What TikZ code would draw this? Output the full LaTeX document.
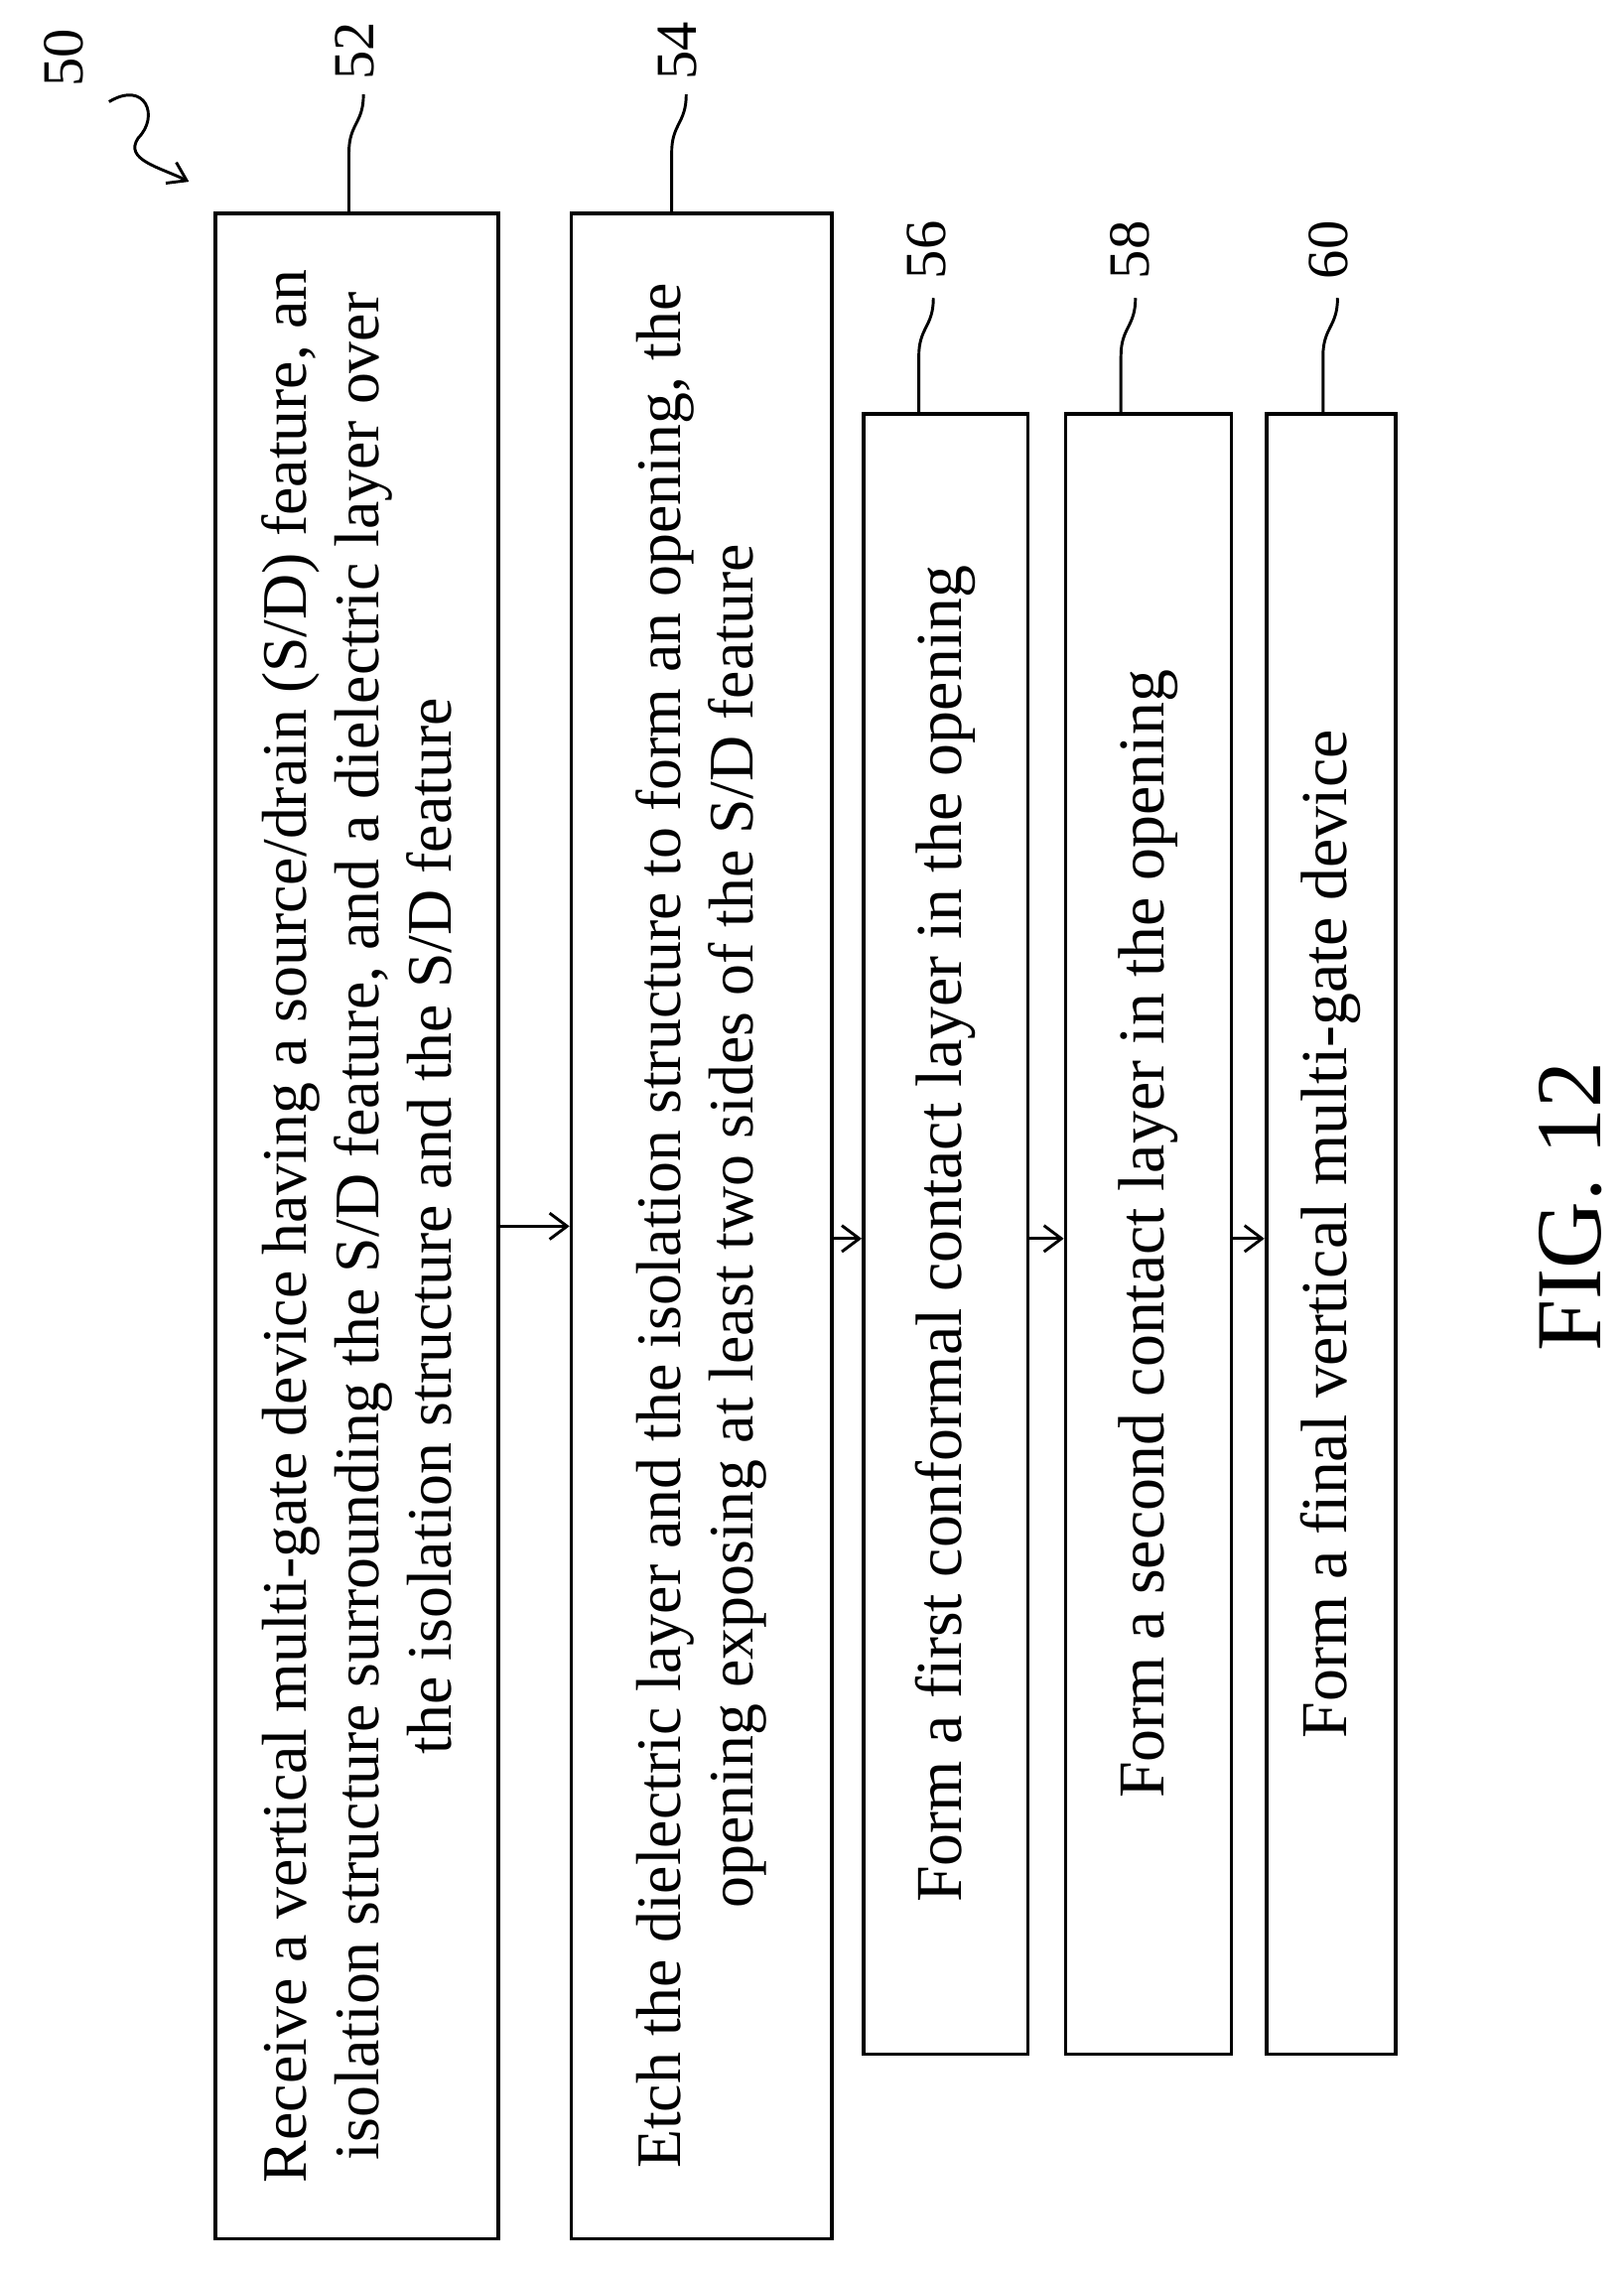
\documentclass[tikz,border=0pt]{standalone}
\usepackage{fontspec}
\setmainfont{Liberation Serif}
\usetikzlibrary{arrows.meta}
\begin{document}
\begin{tikzpicture}[x=0.5pt,y=-0.5pt,
  stepbox/.style={draw,line width=1.3pt,rotate=90,align=center,inner sep=0pt,
    font=\fontsize{22.5}{25}\selectfont},
  lbl/.style={rotate=90,font=\fontsize{20}{22}\selectfont},
  lead/.style={line width=1pt},
  flow/.style={line width=1pt,-{Straight Barb[length=6pt,width=9pt]}}]
\useasboundingbox (0,0) rectangle (1117,1567);
\node[stepbox,minimum width=696.5pt,minimum height=97.5pt,font=\fontsize{21.8}{25}\selectfont] (b52) at (245.5,843.5)
 {Receive a vertical multi-gate device having a source/drain (S/D) feature, an\\ isolation structure surrounding the S/D feature, and a dielectric layer over\\ the isolation structure and the S/D feature};
\node[stepbox,minimum width=696.5pt,minimum height=89.5pt,font=\fontsize{21.8}{25}\selectfont] (b54) at (482.5,843.5)
 {Etch the dielectric layer and the isolation structure to form an opening, the\\ opening exposing at least two sides of the S/D feature};
\node[stepbox,minimum width=564pt,minimum height=56.5pt] (b56) at (650.5,849)
 {Form a first conformal contact layer in the opening};
\node[stepbox,minimum width=564pt,minimum height=57pt] (b58) at (790,849)
 {Form a second contact layer in the opening};
\node[stepbox,minimum width=564pt,minimum height=44.5pt] (b60) at (915.5,849)
 {Form a final vertical multi-gate device};
\draw[flow] (b52.south) -- (b54.north);
\draw[flow] (b54.south |- 0,852) -- (b56.north |- 0,852);
\draw[flow] (b56.south |- 0,852) -- (b58.north |- 0,852);
\draw[flow] (b58.south |- 0,852) -- (b60.north |- 0,852);
% labels
\node[lbl] (l52) at (244,35) {52};
\node[lbl] (l54) at (466,35) {54};
\node[lbl] (l56) at (637,172) {56};
\node[lbl] (l58) at (777,172) {58};
\node[lbl] (l60) at (914,172) {60};
\node[lbl] (l50) at (44,40) {50};
\node[rotate=90,font=\fontsize{32}{36}\selectfont] (fig) at (1080,830) {FIG. 12};
\coordinate (t52) at (240,147); \coordinate (t54) at (462,147);
\coordinate (t56) at (632,285); \coordinate (t58) at (771,285); \coordinate (t60) at (910,285);
\draw[lead] (t52) -- (240,105) .. controls (240,85) and (250,85) .. (250,65);
\draw[lead] (t54) -- (462,105) .. controls (462,85) and (472,85) .. (472,65);
\draw[lead] (t56) -- (632,245) .. controls (632,225) and (642,225) .. (642,205);
\draw[lead] (t58) -- (771,245) .. controls (771,225) and (781,225) .. (781,205);
\draw[lead] (t60) -- (910,245) .. controls (910,225) and (920,225) .. (920,205);
\coordinate (a50) at (130,125);
\draw[lead,-{Straight Barb[length=6pt,width=8pt]}] (75,70) .. controls (100,55) and (110,80) .. (95,95) .. controls (85,110) and (110,115) .. (a50);
\end{tikzpicture}
\end{document}
